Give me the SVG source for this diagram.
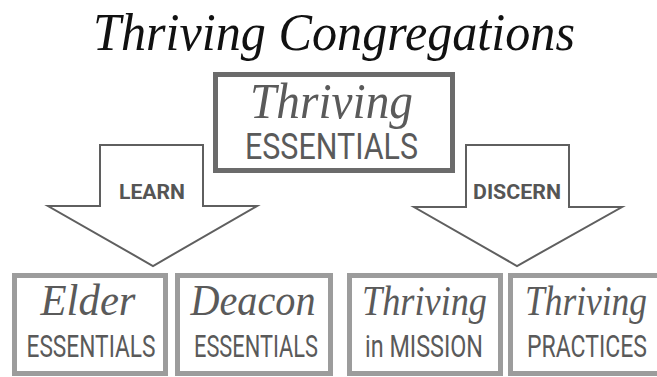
<svg xmlns="http://www.w3.org/2000/svg" width="657" height="377" viewBox="0 0 657 377">
<style>
.serif{font-family:"Liberation Serif","DejaVu Serif",serif;font-style:italic;}
.sans{font-family:Roboto,"Liberation Sans",sans-serif;}
.top{fill:#ffffff;stroke:#6b6b6b;stroke-width:5;}
.sub{fill:#ffffff;stroke:#9c9c9c;stroke-width:5;}
.arrow{fill:#ffffff;stroke:#5f5f5f;stroke-width:2;stroke-linejoin:miter;}
.lbl{fill:#5a5a5a;}
.albl{fill:#555555;font-weight:bold;font-size:21px;}
</style>
<rect width="657" height="377" fill="#ffffff"/>
<text class="serif" x="334" y="50" font-size="52" text-anchor="middle" fill="#111111" textLength="482" lengthAdjust="spacingAndGlyphs">Thriving Congregations</text>
<g id="connectors">
  <g id="learn-arrow">
    <polygon class="arrow" points="100,145 203,145 203,206 257,206 153,266 48,206 100,206"/>
    <text class="sans albl" x="152" y="199" text-anchor="middle" textLength="66" lengthAdjust="spacingAndGlyphs">LEARN</text>
  </g>
  <g id="discern-arrow">
    <polygon class="arrow" points="466,145 569,145 569,207 622,207 517,266 414,207 466,207"/>
    <text class="sans albl" x="517" y="199" text-anchor="middle" textLength="88" lengthAdjust="spacingAndGlyphs">DISCERN</text>
  </g>
</g>
<g id="thriving-essentials">
  <rect class="top" x="215.5" y="74.5" width="237" height="96"/>
  <text class="serif lbl" x="331.5" y="118" font-size="50" text-anchor="middle" textLength="163" lengthAdjust="spacingAndGlyphs">Thriving</text>
  <text class="sans lbl" x="331.5" y="159" font-size="37" text-anchor="middle" textLength="173" lengthAdjust="spacingAndGlyphs">ESSENTIALS</text>
</g>
<g id="elder-essentials">
  <rect class="sub" x="14.5" y="275.5" width="151" height="98"/>
  <text class="serif lbl" x="88" y="315" font-size="45" text-anchor="middle" textLength="95" lengthAdjust="spacingAndGlyphs">Elder</text>
  <text class="sans lbl" x="91" y="357" font-size="31" text-anchor="middle" textLength="129" lengthAdjust="spacingAndGlyphs">ESSENTIALS</text>
</g>
<g id="deacon-essentials">
  <rect class="sub" x="177.5" y="275.5" width="153" height="98"/>
  <text class="serif lbl" x="253" y="315" font-size="45" text-anchor="middle" textLength="125" lengthAdjust="spacingAndGlyphs">Deacon</text>
  <text class="sans lbl" x="256" y="357" font-size="31" text-anchor="middle" textLength="124" lengthAdjust="spacingAndGlyphs">ESSENTIALS</text>
</g>
<g id="thriving-in-mission">
  <rect class="sub" x="349.5" y="275.5" width="151" height="98"/>
  <text class="serif lbl" x="424.5" y="315" font-size="42" text-anchor="middle" textLength="125" lengthAdjust="spacingAndGlyphs">Thriving</text>
  <text class="sans lbl" x="424" y="357" font-size="31" text-anchor="middle" textLength="118" lengthAdjust="spacingAndGlyphs">in MISSION</text>
</g>
<g id="thriving-practices">
  <rect class="sub" x="510.5" y="275.5" width="152" height="98"/>
  <text class="serif lbl" x="586" y="315" font-size="42" text-anchor="middle" textLength="122" lengthAdjust="spacingAndGlyphs">Thriving</text>
  <text class="sans lbl" x="587" y="357" font-size="31" text-anchor="middle" textLength="120" lengthAdjust="spacingAndGlyphs">PRACTICES</text>
</g>
</svg>
